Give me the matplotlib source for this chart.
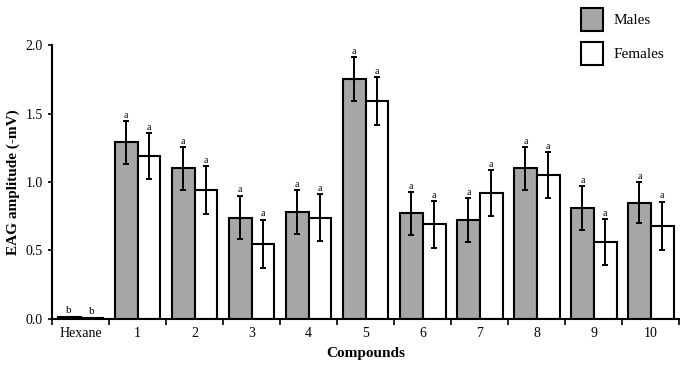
import matplotlib.pyplot as plt
import numpy as np

plt.rcParams['font.family'] = ['Liberation Serif', 'DejaVu Serif']

# data
compounds = ["Hexane", "1", "2", "3", "4", "5", "6", "7", "8", "9", "10"]
males = [0.01, 1.29, 1.10, 0.74, 0.78, 1.75, 0.77, 0.72, 1.10, 0.81, 0.85]
males_err = [0.005, 0.155, 0.155, 0.16, 0.16, 0.16, 0.155, 0.16, 0.155, 0.16, 0.15]
females = [0.005, 1.19, 0.94, 0.55, 0.74, 1.59, 0.69, 0.92, 1.05, 0.56, 0.68]
females_err = [0.003, 0.165, 0.175, 0.175, 0.17, 0.175, 0.17, 0.165, 0.17, 0.17, 0.175]
males_letters = ["b", "a", "a", "a", "a", "a", "a", "a", "a", "a", "a"]
females_letters = ["b", "a", "a", "a", "a", "a", "a", "a", "a", "a", "a"]

x = np.arange(len(compounds))
w = 0.4

fig = plt.figure(figsize=(6.8, 3.76), dpi=100)
ax = fig.add_axes([0.0765, 0.152, 0.9225, 0.728])

ekw = dict(ecolor="black", elinewidth=1.4, capsize=2.5, capthick=1.4)
ax.bar(x - w / 2, males, w, yerr=males_err, color="#a6a6a6",
       edgecolor="black", linewidth=1.5, error_kw=ekw, label="Males", zorder=2)
ax.bar(x + w / 2, females, w, yerr=females_err, color="white",
       edgecolor="black", linewidth=1.5, error_kw=ekw, label="Females", zorder=2)

for i in range(len(compounds)):
    fs = 8 if males_letters[i] == "b" else 7
    ax.text(x[i] - w / 2, males[i] + males_err[i] + 0.01, males_letters[i],
            ha="center", va="bottom", fontsize=fs)
    ax.text(x[i] + w / 2, females[i] + females_err[i] + 0.01, females_letters[i],
            ha="center", va="bottom", fontsize=fs)

ax.set_xlim(-0.5, len(compounds) - 0.5)
ax.set_ylim(0, 2.0)
ax.set_yticks([0.0, 0.5, 1.0, 1.5, 2.0])
ax.set_yticklabels(["0.0", "0.5", "1.0", "1.5", "2.0"])
ax.set_xticks(x)
ax.set_xticklabels(compounds)
ax.set_xticks(np.arange(-0.5, len(compounds)), minor=True)
ax.tick_params(axis="x", which="major", length=0, labelsize=10, pad=6)
ax.tick_params(axis="x", which="minor", length=4, width=1.2, direction="out")
ax.tick_params(axis="y", labelsize=10, length=3, width=1.2, direction="out")

ax.spines["top"].set_visible(False)
ax.spines["right"].set_visible(False)
ax.spines["left"].set_linewidth(1.5)
ax.spines["bottom"].set_linewidth(1.5)

ax.set_ylabel("EAG amplitude (-mV)", fontsize=11, fontweight="bold")
ax.set_xlabel("Compounds", fontsize=11, fontweight="bold", labelpad=5)

leg = ax.legend(loc="upper left", bbox_to_anchor=(0.843, 1.135), frameon=False,
                fontsize=11, handlelength=1.45, handleheight=1.9,
                labelspacing=0.75, handletextpad=0.7, borderpad=0,
                borderaxespad=0)

fig.savefig("out.png", dpi=100)
